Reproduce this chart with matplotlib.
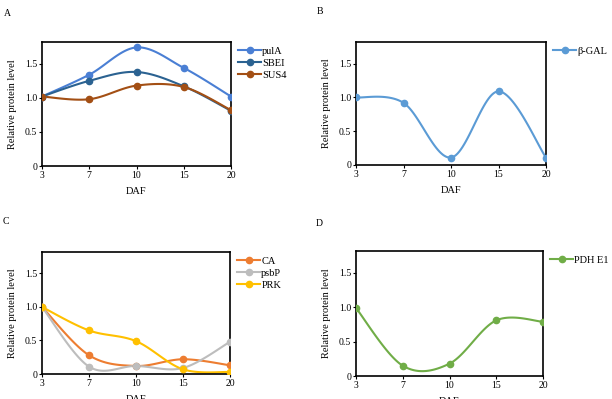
import numpy as np
import matplotlib
matplotlib.use("Agg")
import matplotlib.pyplot as plt

plt.rcParams['font.family'] = ['Liberation Serif', 'DejaVu Serif']

# data
days = ['3', '7', '10', '15', '20']
pulA = [1.02, 1.34, 1.74, 1.44, 1.02]
SBEI = [1.02, 1.25, 1.38, 1.17, 0.81]
SUS4 = [1.02, 0.98, 1.18, 1.16, 0.82]
bGAL = [1.00, 0.92, 0.11, 1.09, 0.11]
CA = [1.00, 0.28, 0.12, 0.22, 0.13]
psbP = [1.00, 0.11, 0.12, 0.09, 0.48]
PRK = [1.00, 0.65, 0.49, 0.07, 0.03]
PDH = [0.99, 0.15, 0.18, 0.81, 0.79]

yticks = [0, 0.5, 1.0, 1.5]
yticklabels = ['0', '0.5', '1.0', '1.5']


def smooth(x, y, n=30):
    # excel-like smoothed line (catmull-rom through the points)
    x = np.asarray(x, float)
    y = np.asarray(y, float)
    px = np.concatenate([[x[0]], x, [x[-1]]])
    py = np.concatenate([[y[0]], y, [y[-1]]])
    xs, ys = [], []
    t = np.linspace(0, 1, n)
    for i in range(1, len(px) - 2):
        p0 = np.array([px[i], py[i]])
        p3 = np.array([px[i + 1], py[i + 1]])
        c1 = p0 + (np.array([px[i + 1], py[i + 1]]) - np.array([px[i - 1], py[i - 1]])) / 6
        c2 = p3 - (np.array([px[i + 2], py[i + 2]]) - np.array([px[i], py[i]])) / 6
        b = ((1 - t) ** 3)[:, None] * p0 + (3 * (1 - t) ** 2 * t)[:, None] * c1 \
            + (3 * (1 - t) * t ** 2)[:, None] * c2 + (t ** 3)[:, None] * p3
        xs.append(b[:, 0])
        ys.append(b[:, 1])
    return np.concatenate(xs), np.concatenate(ys)


def panel(rect, series, letter, lxy):
    ax = fig.add_axes(rect)
    xi = np.arange(len(days))
    handles = []
    for name, vals, col in series:
        sx, sy = smooth(xi, vals)
        ax.plot(sx, sy, color=col, lw=1.5, zorder=2)
        ax.plot(xi, vals, 'o', color=col, ms=4.5, zorder=3)
        h, = ax.plot([], [], '-o', color=col, lw=1.5, ms=4.5, label=name)
        handles.append(h)
    ax.set_xlim(0, len(days) - 1)
    ax.set_ylim(0, 1.82)
    ax.set_xticks(xi)
    ax.set_xticklabels(days)
    ax.set_yticks(yticks)
    ax.set_yticklabels(yticklabels)
    ax.tick_params(labelsize=7, length=2, width=0.8, pad=1.5)
    for s in ax.spines.values():
        s.set_linewidth(1.2)
    ax.set_xlabel('DAF', fontsize=7.5, labelpad=5)
    ax.set_ylabel('Relative protein level', fontsize=7.5, labelpad=6)
    ax.legend(handles=handles, loc='upper left', bbox_to_anchor=(1.0, 1.02),
              frameon=False, fontsize=7.5, handlelength=2.2, handletextpad=0.1,
              labelspacing=0.25, borderaxespad=0.3)
    fig.text(lxy[0] / 612, 1 - lxy[1] / 399, letter, fontsize=7, ha='left', va='center')
    return ax


fig = plt.figure(figsize=(6.12, 3.99), dpi=100)

panel([42 / 612, 233 / 399, 189 / 612, 124 / 399],
      [('pulA', pulA, '#4a7fd4'), ('SBEI', SBEI, '#2b6291'), ('SUS4', SUS4, '#a34f14')],
      'A', (4, 13))
panel([356 / 612, 234 / 399, 190 / 612, 123 / 399],
      [('β-GAL', bGAL, '#5b9bd5')],
      'B', (317, 11))
panel([42 / 612, 25 / 399, 188 / 612, 122 / 399],
      [('CA', CA, '#ed7d31'), ('psbP', psbP, '#bdbdbd'), ('PRK', PRK, '#ffc000')],
      'C', (3, 222))
panel([356 / 612, 23 / 399, 187 / 612, 125 / 399],
      [('PDH E1', PDH, '#70ad47')],
      'D', (316, 223))

fig.savefig('out.png', dpi=100)
